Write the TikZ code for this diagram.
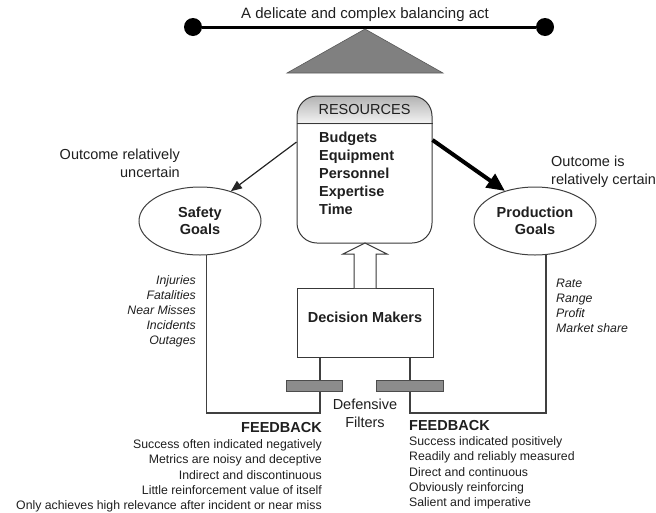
\documentclass[tikz,border=0pt]{standalone}
\usepackage{fontspec}
\setmainfont{Liberation Sans}
\usetikzlibrary{arrows.meta,shapes.geometric}
\begin{document}
\begin{tikzpicture}[x=1pt,y=-1pt,
  every node/.style={text=black!88, inner sep=0pt},
  titletext/.style={font=\fontsize{15}{18}\selectfont},
  big/.style={font=\fontsize{14.5}{18}\selectfont},
  bigb/.style={font=\fontsize{14.5}{18}\selectfont\bfseries},
  goalb/.style={font=\fontsize{14.5}{17}\selectfont\bfseries},
  small/.style={font=\fontsize{12.3}{15.2}\selectfont},
  smalli/.style={font=\fontsize{12.3}{15}\selectfont\itshape},
  ln/.style={draw=black!75, line width=1.1pt},
  goal/.style={ellipse, draw=black!75, line width=1pt, minimum width=122pt, minimum height=68pt, fill=white, align=center, goalb},
  dotc/.style={circle, fill=black, minimum size=18pt},
  filter/.style={draw=black!70, fill=black!45, line width=0.8pt},
  boxline/.style={draw=black!78, line width=1pt}
]
\useasboundingbox (0,0) rectangle (656,512);

% balance
\node[dotc] (dotL) at (193,27) {};
\node[dotc] (dotR) at (545,27) {};
\draw[line width=3pt] (dotL) -- (dotR);
\node[titletext] (title) at (365,15) {A delicate and complex balancing act};
\path[fill=black!50, draw=black!65, line width=0.6pt] (365,29) -- (443,73) -- (287,73) -- cycle;

% resources
\begin{scope}
  \clip[rounded corners=20pt] (297,96) rectangle (432,243);
  \shade[top color=black!30, bottom color=black!4] (297,96) rectangle (432,124);
\end{scope}
\node[boxline, rounded corners=20pt, minimum width=135pt, minimum height=147pt] (res) at (364.5,169.5) {};
\draw[boxline] ([yshift=-28pt]res.north west) -- ([yshift=-28pt]res.north east);
\node[big] (reshead) at (364.5,110) {RESOURCES};
\node[bigb, align=left, anchor=west] (reslist) at (319,173) {Budgets\\Equipment\\Personnel\\Expertise\\Time};

% goals
\node[goal] (safety) at (200,221) {Safety\\Goals};
\node[goal] (prod) at (535,221) {Production\\Goals};

\node[big, align=right, anchor=east] (outL) at (180,163.5) {Outcome relatively\\uncertain};
\node[big, align=left, anchor=west] (outR) at (551,172) {Outcome is\\relatively certain};

% arrows
\draw[black!85, line width=1.2pt, -{Triangle[length=11pt,width=9pt]}] ([yshift=27.5pt]res.west) -- (safety.44);
\draw[black, line width=4pt, -{Triangle[length=18pt,width=16pt]}] ([yshift=29.5pt]res.east) -- (prod.135);

% decision makers
\node[boxline, minimum width=136pt, minimum height=69pt] (dm) at (365,322.5) {};
\node[bigb] (dmtext) at (365,317) {Decision Makers};
\draw[boxline, fill=white] (354,288) -- (354,254) -- (343,254) -- (365,243) -- (387,254) -- (376,254) -- (376,288);

% feedback loops
\coordinate (cl) at (320,413);
\coordinate (cr) at (410,413);
\draw[ln] (safety.-80) |- (cl) -- (cl |- dm.south);
\draw[ln] (prod.-72) |- (cr) -- (cr |- dm.south);
\node[filter, minimum width=56pt, minimum height=11pt] (fl) at (314,385.5) {};
\node[filter, minimum width=67pt, minimum height=11pt] (fr) at (409.5,385.5) {};
\node[big, align=center] (deff) at (365,413) {Defensive\\Filters};

% lists
\node[smalli, align=right, anchor=east] (safelist) at (196,311) {Injuries\\Fatalities\\Near Misses\\Incidents\\Outages};
\node[smalli, align=left, anchor=west] (prodlist) at (556,305.5) {Rate\\Range\\Profit\\Market share};

\node[bigb, anchor=east] (fbL) at (322,428) {FEEDBACK};
\node[small, align=right, anchor=east] (fbLlist) at (322,476) {Success often indicated negatively\\Metrics are noisy and deceptive\\Indirect and discontinuous\\Little reinforcement value of itself\\Only achieves high relevance after incident or near miss};
\node[bigb, anchor=west] (fbR) at (409,426) {FEEDBACK};
\node[small, align=left, anchor=west] (fbRlist) at (409,473) {Success indicated positively\\Readily and reliably measured\\Direct and continuous\\Obviously reinforcing\\Salient and imperative};
\end{tikzpicture}
\end{document}
